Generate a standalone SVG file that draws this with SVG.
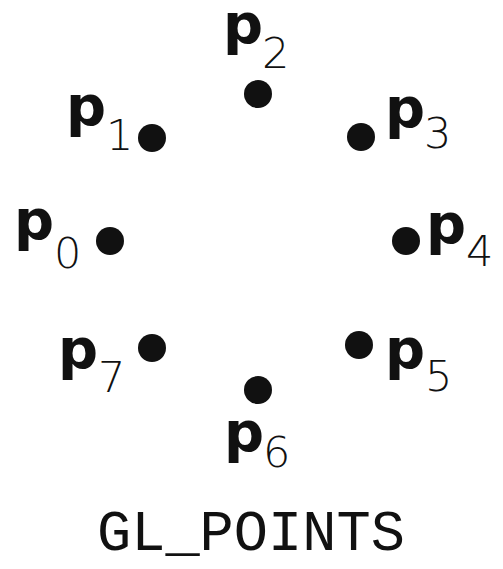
<svg xmlns="http://www.w3.org/2000/svg" width="503" height="569" viewBox="0 0 503 569">
<style>
.p{font-family:"DejaVu Sans","Liberation Sans",sans-serif;font-weight:bold;font-size:56px;fill:#111}
.s{font-family:"DejaVu Sans","Liberation Sans",sans-serif;font-weight:200;font-size:43px;fill:#111}
.dot{fill:#111}
.t{font-family:"Liberation Mono","DejaVu Sans Mono",monospace;font-size:57px;fill:#111}
</style>
<rect width="503" height="569" fill="#fff"/>
<g id="connectors"/>
<g id="p0"><circle class="dot" cx="110" cy="241" r="14"/><text class="p" x="14" y="239">p</text><text class="s" x="54" y="268">0</text></g>
<g id="p1"><circle class="dot" cx="152" cy="138" r="14"/><text class="p" x="66" y="125">p</text><text class="s" x="106" y="150">1</text></g>
<g id="p2"><circle class="dot" cx="258" cy="94" r="14"/><text class="p" x="223" y="43">p</text><text class="s" x="262" y="68">2</text></g>
<g id="p3"><circle class="dot" cx="361" cy="137" r="14"/><text class="p" x="385" y="127">p</text><text class="s" x="424" y="148">3</text></g>
<g id="p4"><circle class="dot" cx="406" cy="241" r="14"/><text class="p" x="426" y="243">p</text><text class="s" x="466" y="266">4</text></g>
<g id="p5"><circle class="dot" cx="359" cy="345" r="14"/><text class="p" x="385" y="368">p</text><text class="s" x="425" y="391">5</text></g>
<g id="p6"><circle class="dot" cx="258" cy="390" r="14"/><text class="p" x="224" y="451">p</text><text class="s" x="263" y="467">6</text></g>
<g id="p7"><circle class="dot" cx="152" cy="348" r="14"/><text class="p" x="58" y="368">p</text><text class="s" x="98" y="392">7</text></g>
<g id="caption"><text class="t" x="97" y="550">GL_POINTS</text></g>
</svg>
